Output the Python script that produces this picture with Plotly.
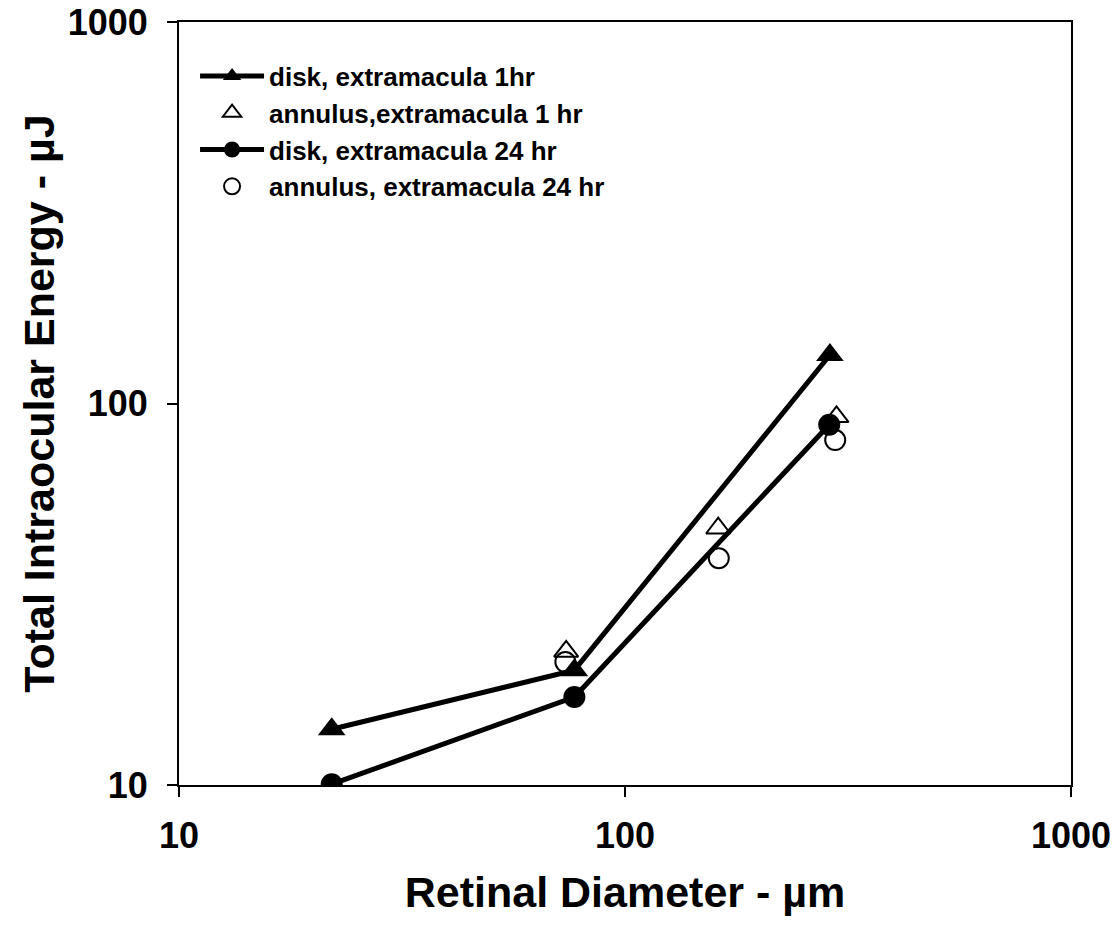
import plotly.graph_objects as go

# Data
x_disk_1hr = [22, 77, 288]
y_disk_1hr = [14.0, 20.0, 134]
x_ann_1hr = [73.8, 161.8, 298]
y_ann_1hr = [22.4, 47.1, 92.3]
x_disk_24hr = [22, 77, 287]
y_disk_24hr = [10.05, 17.0, 88]
x_ann_24hr = [73.5, 162.3, 296]
y_ann_24hr = [21.0, 39.3, 80.2]

tick_vals = [10, 100, 1000]
tick_text = ["10", "100", "1000"]

FONT = "Liberation Sans, Arial, sans-serif"

fig = go.Figure()
fig.add_trace(go.Scatter(
    x=x_disk_1hr, y=y_disk_1hr, mode="lines+markers",
    name="disk, extramacula 1hr", legendgroup="a",
    line=dict(color="black", width=5),
    marker=dict(symbol="triangle-up", size=24, color="black"),
))
fig.add_trace(go.Scatter(
    x=x_ann_1hr, y=y_ann_1hr, mode="markers",
    name="annulus,extramacula 1 hr", legendgroup="b",
    marker=dict(symbol="triangle-up-open", size=21, color="black",
                line=dict(width=2, color="black")),
))
fig.add_trace(go.Scatter(
    x=x_disk_24hr, y=y_disk_24hr, mode="lines+markers",
    name="disk, extramacula 24 hr", legendgroup="c",
    line=dict(color="black", width=5),
    marker=dict(symbol="circle", size=22, color="black"),
))
fig.add_trace(go.Scatter(
    x=x_ann_24hr, y=y_ann_24hr, mode="markers",
    name="annulus, extramacula 24 hr", legendgroup="d",
    marker=dict(symbol="circle-open", size=20, color="black",
                line=dict(width=2, color="black")),
))

axis_common = dict(
    type="log", range=[1, 3],
    tickvals=tick_vals, ticktext=tick_text,
    showgrid=False, zeroline=False,
    showline=True, linecolor="black", linewidth=2, mirror=True,
    ticks="outside", ticklen=10, tickwidth=2, tickcolor="black",
    tickfont=dict(family=FONT, size=36, color="black", weight="bold"),
    ticklabeloverflow="allow",
)
title_font = dict(family=FONT, size=43, color="black", weight="bold")

fig.update_layout(
    width=1114, height=932,
    margin=dict(l=179, r=43, t=22, b=147, autoexpand=False),
    paper_bgcolor="white", plot_bgcolor="white",
    font=dict(family=FONT, color="black"),
    xaxis=dict(**axis_common, ticklabelstandoff=8,
               title=dict(text="Retinal Diameter - µm", font=title_font,
                          standoff=22)),
    yaxis=dict(**axis_common, ticklabelstandoff=12,
               title=dict(text="Total Intraocular Energy - µJ", font=title_font,
                          standoff=0)),
    legend=dict(
        x=0.018, y=0.96, xanchor="left", yanchor="top",
        bgcolor="rgba(0,0,0,0)", borderwidth=0,
        font=dict(family=FONT, size=26, color="black", weight="bold"),
        itemwidth=64, tracegroupgap=0,
    ),
    showlegend=True,
)

fig.write_html(
    "out.html",
    config={"displayModeBar": False},
    post_script="document.body.style.margin='0';document.body.style.overflow='hidden';",
)
